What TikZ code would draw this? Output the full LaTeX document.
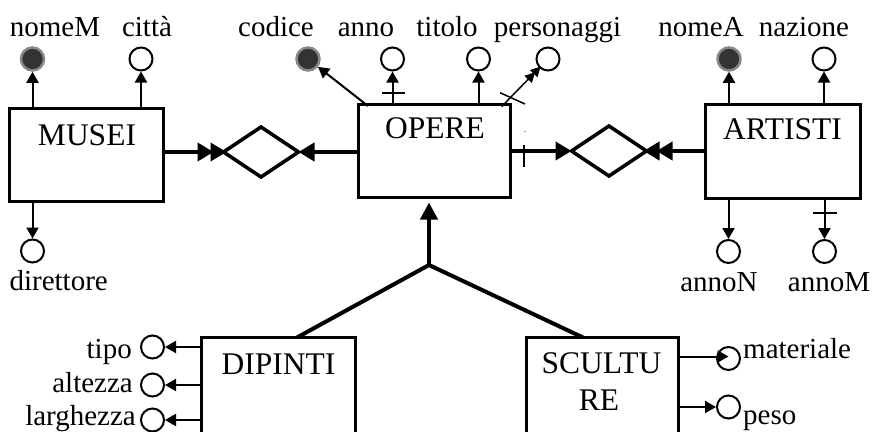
\documentclass[tikz,border=0pt]{standalone}
\usepackage{fontspec}
\setmainfont{Liberation Serif}
\usetikzlibrary{arrows.meta,shapes.geometric,calc}
\begin{document}
\begin{tikzpicture}[x=1pt,y=-1pt,
  entity/.style={draw, line width=3pt, rectangle, inner sep=0pt, outer sep=0pt},
  ename/.style={font=\fontsize{31.5}{37}\selectfont, inner sep=0pt, anchor=base},
  aname/.style={font=\fontsize{29}{34}\selectfont, inner sep=0pt, anchor=base},
  attr/.style={draw, circle, line width=2pt, minimum size=23pt, inner sep=0pt, fill=white},
  keyattr/.style={attr, fill=black!80, draw=black!47, line width=2.5pt},
  rel/.style={draw, diamond, line width=3.5pt, inner sep=0pt, outer sep=0pt, minimum width=75pt, minimum height=50pt},
  aarrow/.style={line width=2pt, -{Triangle[length=11pt,width=12pt]}},
  marrow/.style={line width=1.5pt, -{Triangle[length=10pt,width=10pt,sep=-2pt]Triangle[length=10pt,width=10pt,sep=-2pt]}},
  conn/.style={line width=4.5pt},
  onearrow/.style={conn, -{Triangle[length=16pt,width=18pt]}},
  manyarrow/.style={conn, -{Triangle[length=16pt,width=18pt,sep=-3pt]Triangle[length=16pt,width=18pt,sep=-3pt]}},
  tickmark/.style={line width=2pt},
]
\useasboundingbox (0,0) rectangle (874,431);

% entities
\node[entity, minimum width=154pt, minimum height=93pt] (MUSEI) at (86.5,155) {};
\node[entity, minimum width=152pt, minimum height=93pt] (OPERE) at (434.5,151) {};
\node[entity, minimum width=155pt, minimum height=94pt] (ARTISTI) at (783,151.5) {};
\node[entity, minimum width=154pt, minimum height=107pt] (DIPINTI) at (278.5,391) {};
\node[entity, minimum width=152pt, minimum height=107pt] (SCULTURE) at (602.5,391) {};

\node[ename] (tMUSEI) at (87,145) {MUSEI};
\node[ename] (tOPERE) at (435,138) {OPERE};
\node[ename] (tARTISTI) at (782.5,139) {ARTISTI};
\node[ename] (tDIPINTI) at (278.5,374) {DIPINTI};
\node[ename] (tSCULTU) at (601.5,373) {SCULTU};
\node[ename] (tRE) at (599,410) {RE};

% relationships
\node[rel] (D1) at (261,152) {};
\node[rel] (D2) at (609,151) {};

\draw[manyarrow] (D1.west -| MUSEI.east) -- (D1.west);
\draw[onearrow] (D1.east -| OPERE.west) -- (D1.east);
\draw[onearrow] (D2.west -| OPERE.east) -- (D2.west);
\draw[manyarrow] (D2.east -| ARTISTI.west) -- (D2.east);
\coordinate (tk1a) at (524,145);
\coordinate (tk1b) at (524,167);
\draw[tickmark, line width=2.5pt] (tk1a) -- (tk1b);
\fill[black!45] (525,131.5) circle (0.8pt);

% attributes
\node[keyattr] (nomeM) at (32.5,59) {};
\node[attr] (citta) at (141,59) {};
\node[keyattr] (codice) at (308,59) {};
\node[attr] (anno) at (392.5,59) {};
\node[attr] (titolo) at (478.5,59) {};
\node[attr] (personaggi) at (548,59) {};
\node[keyattr] (nomeA) at (729,59) {};
\node[attr] (nazione) at (824,59) {};
\node[attr] (direttore) at (32.5,251) {};
\node[attr] (annoN) at (728.5,251.5) {};
\node[attr] (annoM) at (824.5,251.5) {};
\node[attr] (tipo) at (152.5,347) {};
\node[attr] (altezza) at (152.5,385) {};
\node[attr] (larghezza) at (152.5,420) {};
\node[attr] (materiale) at (728.5,358.5) {};
\node[attr] (peso) at (728.5,407) {};

\node[aname] (lnomeM) at (55,36) {nomeM};
\node[aname] (lcitta) at (147,36) {città};
\node[aname] (lcodice) at (276,36) {codice};
\node[aname] (lanno) at (366,36) {anno};
\node[aname] (ltitolo) at (447,36) {titolo};
\node[aname] (lpersonaggi) at (557.5,36) {personaggi};
\node[aname] (lnomeA) at (701,36) {nomeA};
\node[aname] (lnazione) at (804,36) {nazione};
\node[aname] (ldirettore) at (58.7,290) {direttore};
\node[aname] (lannoN) at (719,291) {annoN};
\node[aname] (lannoM) at (829,291) {annoM};
\node[aname, anchor=base east] (ltipo) at (132,358) {tipo};
\node[aname, anchor=base east] (laltezza) at (133,392) {altezza};
\node[aname, anchor=base east] (llarghezza) at (136,425) {larghezza};
\node[aname, anchor=base west] (lmateriale) at (743,358) {materiale};
\node[aname, anchor=base west] (lpeso) at (743,424) {peso};

% attribute connectors
\draw[aarrow] (nomeM |- MUSEI.north) -- (nomeM);
\draw[aarrow] (citta |- MUSEI.north) -- (citta);
\draw[aarrow] (direttore |- MUSEI.south) -- (direttore);
\coordinate (codstart) at (368,106);
\draw[aarrow] (codstart) -- (codice);
\draw[aarrow] (anno |- OPERE.north) -- (anno);
\draw[aarrow] (titolo |- OPERE.north) -- (titolo);
\coordinate (perstart) at (501.7,106.5);
\draw[marrow] (perstart) -- (personaggi);
\draw[aarrow] (nomeA |- ARTISTI.north) -- (nomeA);
\draw[aarrow] (nazione |- ARTISTI.north) -- (nazione);
\draw[aarrow] (annoN |- ARTISTI.south) -- (annoN);
\draw[aarrow] (annoM |- ARTISTI.south) -- (annoM);
\draw[aarrow] (tipo -| DIPINTI.west) -- (tipo);
\draw[aarrow] (altezza -| DIPINTI.west) -- (altezza);
\draw[aarrow] (larghezza -| DIPINTI.west) -- (larghezza);
\draw[aarrow] ($(materiale -| SCULTURE.east)+(0,-2)$) -- ($(materiale)+(0,-2)$);
\draw[aarrow] (peso -| SCULTURE.east) -- (peso);

% ticks
\coordinate (tk2a) at (382,92.7);
\coordinate (tk2b) at (405,92.7);
\draw[tickmark] (tk2a) -- (tk2b);
\coordinate (tk3a) at (813,212.7);
\coordinate (tk3b) at (837,212.7);
\draw[tickmark] (tk3a) -- (tk3b);
\coordinate (tk4a) at (500,92.7);
\coordinate (tk4b) at (525,104);
\draw[line width=1.5pt] (tk4a) -- (tk4b);

% specialization
\coordinate (J) at (429,265);
\draw[conn, line width=4pt, line join=round] ($(DIPINTI.north)+(18.5,0)$) -- (J) -- ($(SCULTURE.north)+(-19.5,0)$);
\draw[conn, line width=4pt, -{Triangle[length=17pt,width=17pt]}, shorten >=5pt] (J) -- (J |- OPERE.south);
\end{tikzpicture}
\end{document}
